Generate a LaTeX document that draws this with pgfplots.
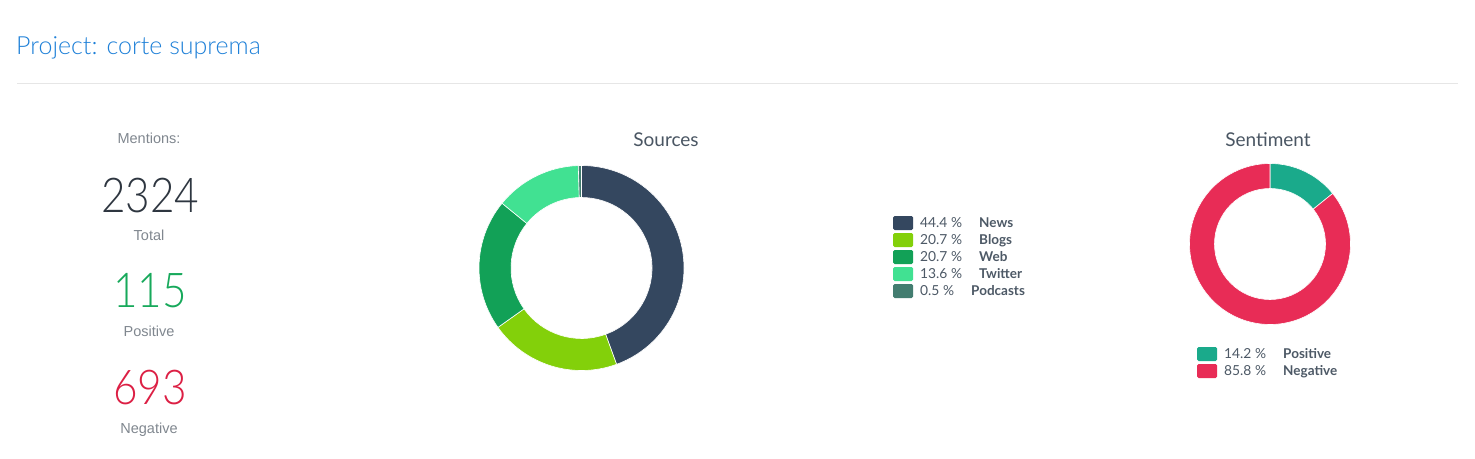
\documentclass[border=0pt]{standalone}
\usepackage{pgfplots}
\pgfplotsset{compat=1.18}
\usepackage{pgfplotstable}
\usepackage{fontspec}
\setmainfont{Lato}
\newfontfamily\lightfont{Lato Light}
\newfontfamily\numfont[FakeStretch=0.88]{Lato Light}
\newfontfamily\robo{Liberation Sans}

\definecolor{src0}{HTML}{34475F}
\definecolor{src1}{HTML}{83D00A}
\definecolor{src2}{HTML}{12A157}
\definecolor{src3}{HTML}{41E192}
\definecolor{src4}{HTML}{437D70}
\definecolor{sen0}{HTML}{1AAA8B}
\definecolor{sen1}{HTML}{E82C56}
\definecolor{titleblue}{HTML}{1E80D8}
\definecolor{rulegray}{HTML}{E6E6E6}
\definecolor{lblgray}{HTML}{80878F}
\definecolor{bignum}{HTML}{2E3640}
\definecolor{posgreen}{HTML}{17A95B}
\definecolor{negred}{HTML}{DC1F44}
\definecolor{chtitle}{HTML}{4A5663}
\definecolor{legtext}{HTML}{4D5966}

\pgfplotstableread{
name pct
News 44.4
Blogs 20.7
Web 20.7
Twitter 13.6
Podcasts 0.5
}\srctab

\pgfplotstableread{
name pct
Positive 14.2
Negative 85.8
}\sentab

\newcommand\prepdonut[2]{%
 \pgfplotstablegetrowsof{#1}\pgfmathtruncatemacro\nlast{\pgfplotsretval-1}%
 \gdef\tot{0}%
 \foreach \i in {0,...,\nlast}{\pgfplotstablegetelem{\i}{pct}\of{#1}\pgfmathsetmacro\t{\tot+\pgfplotsretval}\xdef\tot{\t}}%
 \gdef\cum{90}%
 \foreach \i in {0,...,\nlast}{\pgfplotstablegetelem{\i}{pct}\of{#1}%
   \pgfmathsetmacro\e{\cum-\pgfplotsretval/\tot*360}%
   \expandafter\xdef\csname #2S\i\endcsname{\cum}%
   \expandafter\xdef\csname #2E\i\endcsname{\e}%
   \xdef\cum{\e}}%
}
% #1 prefix, #2 index, #3 cx, #4 cy, #5 outer R, #6 inner r, #7 -(R-r)
\newcommand\donutseg[7]{%
 \edef\sa{\csname #1S#2\endcsname}\edef\ea{\csname #1E#2\endcsname}%
 \edef\tmp{\noexpand\fill[#1#2, draw=white, line width=0.6pt] (axis cs:#3,#4) ++(\sa:#5pt) arc[start angle=\sa,end angle=\ea,radius=#5pt] -- ++(\ea:#7pt) arc[start angle=\ea,end angle=\sa,radius=#6pt] -- cycle;}%
 \tmp}

\newcommand\legrow[6]{% x, y, color, pct, namex, name
 \node[fill=#3, rounded corners=1.5pt, minimum width=20pt, minimum height=14pt, inner sep=0pt] at (axis cs:#1,#2) {};
 \node[anchor=base west, inner sep=0pt, text=legtext, font=\fontsize{13.8}{15}\selectfont] at (axis cs:#1+10+7,#2+4.8) {#4 \%};
 \node[anchor=base west, inner sep=0pt, text=legtext, font=\fontsize{13.5}{15}\selectfont\bfseries] at (axis cs:#5,#2+4.8) {#6};
}

\begin{document}
\begin{tikzpicture}
\prepdonut{\srctab}{src}
\prepdonut{\sentab}{sen}
\begin{axis}[
  x=1pt, y=1pt, y dir=reverse,
  xmin=0, xmax=1475, ymin=0, ymax=458,
  scale only axis, hide axis, clip=false,
]
\fill[white] (axis cs:0,0) rectangle (axis cs:1475,458);

% header
\node[anchor=base west, inner sep=0pt, text=titleblue] at (axis cs:16,54) {\lightfont\fontsize{25}{29}\selectfont Project: corte suprema};
\draw[rulegray, line width=1pt] (axis cs:17,83) -- (axis cs:1458,83);

% left panel
\node[anchor=base, inner sep=0pt, text=lblgray] at (axis cs:149,143) {\robo\fontsize{14.5}{17}\selectfont Mentions:};
\node[anchor=base, inner sep=0pt, text=bignum] at (axis cs:150,212) {\numfont\fontsize{48}{52}\selectfont 2324};
\node[anchor=base, inner sep=0pt, text=lblgray] at (axis cs:149,240) {\robo\fontsize{14.5}{17}\selectfont Total};
\node[anchor=base, inner sep=0pt, text=posgreen] at (axis cs:150,307) {\numfont\fontsize{48}{52}\selectfont 115};
\node[anchor=base, inner sep=0pt, text=lblgray] at (axis cs:149,336) {\robo\fontsize{14.5}{17}\selectfont Positive};
\node[anchor=base, inner sep=0pt, text=negred] at (axis cs:150,404) {\numfont\fontsize{48}{52}\selectfont 693};
\node[anchor=base, inner sep=0pt, text=lblgray] at (axis cs:149,433) {\robo\fontsize{14.5}{17}\selectfont Negative};

% Sources donut
\node[anchor=base, inner sep=0pt, text=chtitle] at (axis cs:666,146) {\fontsize{19}{22}\selectfont Sources};
\donutseg{src}{0}{581.5}{268}{102.5}{70.5}{-32}
\donutseg{src}{1}{581.5}{268}{102.5}{70.5}{-32}
\donutseg{src}{2}{581.5}{268}{102.5}{70.5}{-32}
\donutseg{src}{3}{581.5}{268}{102.5}{70.5}{-32}
\donutseg{src}{4}{581.5}{268}{102.5}{70.5}{-32}

\legrow{903}{223}{src0}{44.4}{979}{News}
\legrow{903}{240}{src1}{20.7}{979}{Blogs}
\legrow{903}{257}{src2}{20.7}{979}{Web}
\legrow{903}{274}{src3}{13.6}{979}{Twitter}
\legrow{903}{291}{src4}{0.5}{971}{Podcasts}

% Sentiment donut
\node[anchor=base, inner sep=0pt, text=chtitle] at (axis cs:1268,146) {\fontsize{19}{22}\selectfont Sentiment};
\donutseg{sen}{0}{1270}{244}{80.5}{55.5}{-25}
\donutseg{sen}{1}{1270}{244}{80.5}{55.5}{-25}

\legrow{1207}{354}{sen0}{14.2}{1283}{Positive}
\legrow{1207}{371}{sen1}{85.8}{1283}{Negative}
\end{axis}
\end{tikzpicture}
\end{document}
